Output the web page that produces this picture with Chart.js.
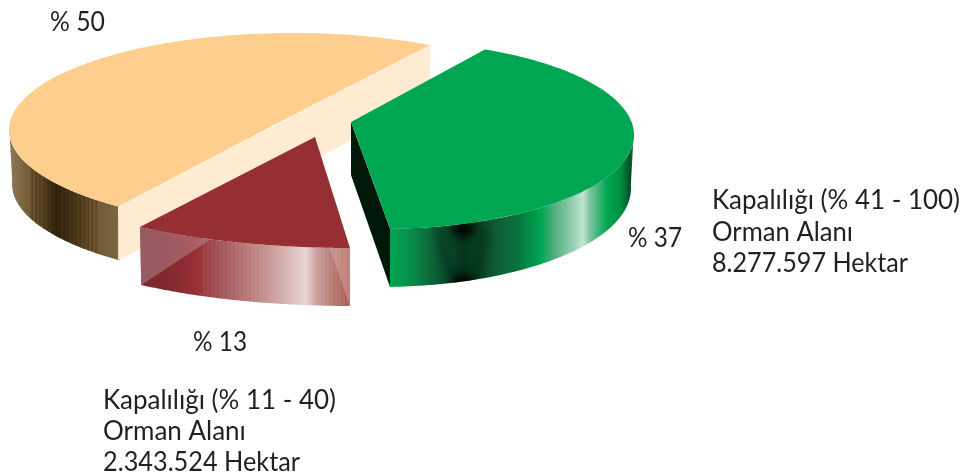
<!DOCTYPE html>
<html><head><meta charset="utf-8">
<style>html,body{margin:0;padding:0;background:#fff}canvas{display:block}</style>
<script src="https://cdn.jsdelivr.net/npm/chart.js@4"></script></head>
<body><canvas id="c" width="969" height="475"></canvas>
<script>
const categories = ['Kapalılığı (% 41 - 100)', 'Kapalılığı (% 11 - 40)', 'Kapalılığı (% 0 - 10)'];
const shares = [37, 13, 50];
const topColors = ['#00a651', '#952f34', '#fdce8d'];
const percentLabels = ['% 37', '% 13', '% 50'];
const noteA = ['Kapalılığı (% 41 - 100)', 'Orman Alanı', '8.277.597 Hektar'];
const noteB = ['Kapalılığı (% 11 - 40)', 'Orman Alanı', '2.343.524 Hektar'];

// tilted-view geometry of each exploded slice
const views = [
 {ex:380,ey:135,rx:254,ry:94, ax:351,ay:122, shift:-11.6,k:1.151, bex:380,bey:188.5,brx:251,bry:98.5, depth:53, sideFrom:88, cut:'#00180a'},
 {ex:352,ey:158,rx:330,ry:90, ax:315,ay:137, shift:11.15,k:0.847, bex:352,bey:216,brx:328,bry:90, depth:58},
 {ex:293,ey:130,rx:284,ry:97, ax:274,ay:125, shift:2,k:0.949, bex:293,bey:184,brx:281,bry:97, depth:54, sideTo:272, cut:'#ffebd2'}
];
const sideStops = [
 [[0,'#00a651'],[.09,'#078c49'],[.16,'#0d6a3a'],[.21,'#0a5530'],[.26,'#084226'],[.30,'#06351d'],[.34,'#07401f'],[.385,'#0c4a28'],[.44,'#0e5f33'],[.51,'#0b6e3c'],[.565,'#008a45'],[.62,'#00a651'],[.67,'#4ead7c'],[.75,'#94cfb0'],[.79,'#c3e6d4'],[.82,'#7cc29c'],[.89,'#00a651'],[.945,'#008f46'],[.985,'#004d26'],[1,'#3f7a5c']],
 [[0,'#7a2a30'],[.12,'#80282e'],[.26,'#962f34'],[.4,'#a5575a'],[.62,'#c99a96'],[.74,'#dfc3c3'],[.79,'#e8d4d4'],[.84,'#c9a09c'],[.92,'#b87a74'],[1,'#a95c55']],
 [[0,'#8f7a60'],[.12,'#7d6540'],[.3,'#5e4724'],[.42,'#33230f'],[.6,'#4f3a1b'],[.75,'#6f5630'],[1,'#7e6745']]
];
const deg = Math.PI/180;
function topPt(v,phi){return {x:v.ex+v.rx*Math.sin(phi*deg), y:v.ey-v.ry*Math.cos(phi*deg)};}
function botPt(v,phi){return {x:v.bex+v.brx*Math.sin(phi*deg), y:v.bey-v.bry*Math.cos(phi*deg)};}

function sideFace(ctx,v,a,b,stops,stripe,extra){
  const n=80, pts=[], back=[];
  for(let i=0;i<=n;i++){const p=a+(b-a)*i/n; pts.push(topPt(v,p)); back.push(botPt(v,p));}
  const all=pts.concat(back.reverse());
  const xs=all.map(p=>p.x), ys=all.map(p=>p.y), x0=Math.min(...xs), x1=Math.max(...xs), y1=Math.max(...ys);
  const g=ctx.createLinearGradient(x0,0,x1,0);
  stops.forEach(s=>g.addColorStop(s[0],s[1]));
  ctx.save(); ctx.beginPath();
  all.forEach((p,i)=>i?ctx.lineTo(p.x,p.y):ctx.moveTo(p.x,p.y)); ctx.closePath();
  ctx.fillStyle=g; ctx.fill(); ctx.clip();
  if(stripe){
    ctx.fillStyle=stripe.color;
    for(let x=x0+stripe.from*(x1-x0);x<x0+stripe.to*(x1-x0);x+=stripe.step) ctx.fillRect(x,0,stripe.w,475);
  }
  if(extra) extra(x0,x1,y1);
  ctx.restore();
}
function poly(ctx,pts,fill){ctx.beginPath();pts.forEach((p,i)=>i?ctx.lineTo(p.x,p.y):ctx.moveTo(p.x,p.y));ctx.closePath();ctx.fillStyle=fill;ctx.fill();}

const pie3d = {
  id:'pie3d',
  beforeDatasetsDraw(chart){
    const ctx=chart.ctx, arcs=chart.getDatasetMeta(0).data;
    [2,1,0].forEach(i=>{
      const el=arcs[i].getProps(['startAngle','endAngle'],true), v=views[i];
      const th0=el.startAngle/deg+90, th1=el.endAngle/deg+90;
      const f0=th0+v.shift, f1=f0+(th1-th0)*v.k;
      const P0=topPt(v,f0), P1=topPt(v,f1);
      const apex={x:v.ax,y:v.ay};
      if(i===2){
        sideFace(ctx,v,f0,v.sideTo,sideStops[2],{color:'rgba(40,25,8,.28)',from:.2,to:.78,step:4,w:2});
        poly(ctx,[P1,P0,{x:P0.x,y:P0.y+v.depth},{x:P1.x,y:P1.y+v.depth+1}],v.cut);
      } else if(i===1){
        sideFace(ctx,v,f0,f1,sideStops[1],{color:'rgba(255,255,255,.05)',from:.3,to:1,step:4,w:2});
        const m=topPt(v,f1-(f1-f0)*.37);
        poly(ctx,[P1,m,botPt(v,f1)],'rgba(190,160,170,.42)');
        const r=topPt(v,f0+(f1-f0)*.09);
        poly(ctx,[P0,r,botPt(v,f0)],'rgba(255,235,235,.22)');
      } else {
        sideFace(ctx,v,v.sideFrom,f1,sideStops[0],null,(x0,x1,y1)=>{
          // soft dark fold in the green wall
          const w=x1-x0, cx=x0+w*.3;
          ctx.save();
          ctx.filter='blur(5px)';
          ctx.fillStyle='rgba(0,0,0,.85)';
          ctx.beginPath(); ctx.ellipse(cx,y1-58,w*.05,9,0,0,7); ctx.fill();
          ctx.beginPath(); ctx.ellipse(cx,y1-5,w*.05,8,0,0,7); ctx.fill();
          ctx.strokeStyle='rgba(0,15,8,.55)'; ctx.lineWidth=5;
          ctx.beginPath(); ctx.moveTo(cx-w*.1,y1-60);
          ctx.quadraticCurveTo(cx-w*.07,y1-6,cx,y1-5);
          ctx.quadraticCurveTo(cx+w*.07,y1-6,cx+w*.09,y1-60);
          ctx.stroke();
          ctx.restore();
        });
        poly(ctx,[apex,P1,botPt(v,f1),{x:apex.x,y:apex.y+v.depth}],v.cut);
      }
      ctx.beginPath(); ctx.moveTo(apex.x,apex.y);
      for(let j=0;j<=120;j++){const p=topPt(v,f0+(f1-f0)*j/120);ctx.lineTo(p.x,p.y);}
      ctx.closePath(); ctx.fillStyle=topColors[i]; ctx.fill();
    });
    return false;
  },
  afterDraw(chart){
    const ctx=chart.ctx;
    ctx.save(); ctx.fillStyle='#231f20'; ctx.font='26px Lato'; ctx.textBaseline='alphabetic';
    ctx.fillText(percentLabels[2],50,31,55);
    ctx.fillText(percentLabels[0],628,247,54);
    ctx.fillText(percentLabels[1],193,351,54);
    const wA=[248,141,196], wB=[233,143,197];
    noteA.forEach((t,i)=>ctx.fillText(t,712,209+i*31.5,wA[i]));
    noteB.forEach((t,i)=>ctx.fillText(t,103,409+i*31,wB[i]));
    ctx.restore();
  }
};
new Chart(document.getElementById('c'),{
  type:'pie',
  data:{labels:categories,datasets:[{data:shares,backgroundColor:topColors,borderWidth:0}]},
  options:{responsive:false,animation:false,rotation:36,layout:{padding:0},
    plugins:{legend:{display:false},tooltip:{enabled:false}}},
  plugins:[pie3d]
});
</script></body></html>
